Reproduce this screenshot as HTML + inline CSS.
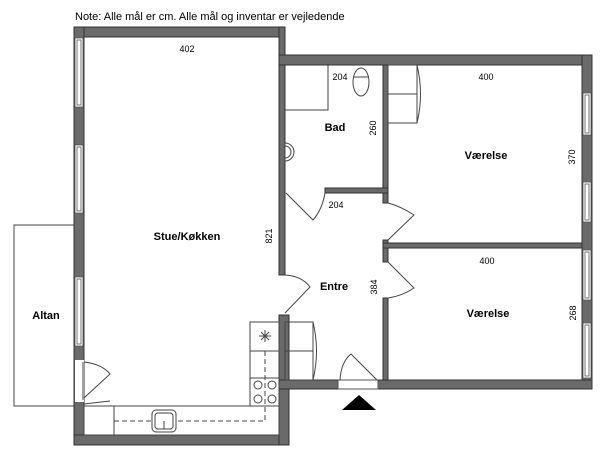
<!DOCTYPE html>
<html><head><meta charset="utf-8"><style>
html,body{margin:0;padding:0;background:#fff}
svg{display:block}
text{font-family:"Liberation Sans",sans-serif;fill:#000}
.w{fill:#6a6a6a;stroke:#333;stroke-width:1}
.win{fill:#fff;stroke:#555;stroke-width:0.8}
.l{fill:none;stroke:#444;stroke-width:1}
.d{fill:none;stroke:#444;stroke-width:1;stroke-dasharray:5,3}
.b{font-weight:bold;font-size:11px}
.s{font-size:9px}
</style></head><body>
<svg width="600" height="452" viewBox="0 0 600 452" xmlns="http://www.w3.org/2000/svg">
<text x="75" y="20" font-size="11">Note: Alle mål er cm. Alle mål og inventar er vejledende</text>
<rect x="14" y="225" width="60" height="181" class="l"/>
<rect x="74" y="27" width="211" height="10" class="w"/>
<rect x="74" y="27" width="10" height="418" class="w"/>
<rect x="74" y="435" width="215" height="10" class="w"/>
<rect x="279" y="27" width="6" height="248" class="w"/>
<rect x="279" y="315" width="10" height="130" class="w"/>
<rect x="279" y="55" width="313" height="10" class="w"/>
<rect x="582" y="55" width="10" height="334" class="w"/>
<rect x="279" y="380" width="59" height="9" class="w"/>
<rect x="378" y="380" width="214" height="9" class="w"/>
<rect x="383" y="65" width="5" height="138" class="w"/>
<rect x="325" y="188" width="63" height="5" class="w"/>
<rect x="383" y="240" width="5" height="22" class="w"/>
<rect x="383" y="243" width="199" height="5" class="w"/>
<rect x="383" y="298" width="5" height="82" class="w"/>
<rect x="75" y="38" width="8" height="69" class="win"/><rect x="77" y="40" width="4" height="65" class="win"/>
<rect x="75" y="145" width="8" height="68" class="win"/><rect x="77" y="147" width="4" height="64" class="win"/>
<rect x="75" y="277" width="8" height="69" class="win"/><rect x="77" y="279" width="4" height="65" class="win"/>
<rect x="75" y="360" width="9" height="42" fill="#fff" stroke="none"/>
<line x1="83" y1="362" x2="83" y2="400" class="l"/>
<path d="M84 362 Q102 364 110 374 L84 398" class="l"/>
<line x1="84" y1="404" x2="110" y2="401" class="l"/>
<rect x="583" y="93" width="8" height="42" class="win"/><rect x="585" y="95" width="4" height="38" class="win"/>
<rect x="583" y="182" width="8" height="40" class="win"/><rect x="585" y="184" width="4" height="36" class="win"/>
<rect x="583" y="250" width="8" height="50" class="win"/><rect x="585" y="252" width="4" height="46" class="win"/>
<rect x="583" y="323" width="8" height="55" class="win"/><rect x="585" y="325" width="4" height="51" class="win"/>
<path d="M285 275 Q302 276 310 287 L285 313" class="l"/>
<path d="M286 193 L313 220 Q322 210 325 193" class="l"/>
<path d="M388 203 Q400 206 414 215 L388 240" class="l"/>
<path d="M388 262 L414 288 Q402 296 388 298" class="l"/>
<rect x="338" y="380" width="40" height="9" fill="#fff" stroke="#555"/>
<path d="M340 380 Q341 362 351 354 L377 380" class="l"/>
<polygon points="342,410 359,395 376,410" fill="#000"/>
<path d="M328 65 L328 110 L285 110" class="l"/>
<ellipse cx="361" cy="82" rx="8" ry="14" class="l"/><line x1="353" y1="77" x2="369" y2="77" class="l"/>
<path d="M285 143 A9 9 0 0 1 285 161 Z" class="l"/><path d="M285 146 A6 6 0 0 1 285 158" class="l"/>
<rect x="388" y="65" width="29" height="29" class="l"/><rect x="388" y="94" width="29" height="29" class="l"/>
<path d="M417 65 Q424 94 417 123" class="l"/>
<rect x="285" y="322" width="28" height="29" class="l"/><rect x="285" y="351" width="28" height="29" class="l"/>
<path d="M313 322 Q320 351 313 380" class="l"/>
<rect x="250" y="322" width="29" height="29" class="l"/>
<rect x="250" y="351" width="29" height="27" class="l"/>
<rect x="250" y="378" width="29" height="28" class="l"/>
<rect x="84" y="406" width="195" height="29" class="l"/>
<line x1="114" y1="406" x2="114" y2="435" class="l"/>
<path d="M259 336 L271 336 M265 330 L265 342 M261 332 L269 340 M269 332 L261 340" class="l"/>
<path d="M265 351 L265 421 L114 421" class="d"/>
<circle cx="258" cy="385" r="4" class="l"/><circle cx="272" cy="385" r="4" class="l"/>
<circle cx="258" cy="399" r="4" class="l"/><circle cx="272" cy="399" r="4" class="l"/>
<rect x="152" y="410" width="24" height="22" rx="4" fill="#fff" stroke="#444"/>
<rect x="155" y="413" width="18" height="16" rx="3" class="l"/>
<line x1="164" y1="421" x2="164" y2="429" class="l"/>
<text x="187" y="52" class="s" text-anchor="middle">402</text>
<text x="340" y="80" class="s" text-anchor="middle">204</text>
<text x="335" y="131" class="b" text-anchor="middle">Bad</text>
<text x="0" y="0" class="s" text-anchor="middle" transform="translate(376,128) rotate(-90)">260</text>
<text x="486" y="80" class="s" text-anchor="middle">400</text>
<text x="486" y="159" class="b" text-anchor="middle">Værelse</text>
<text x="0" y="0" class="s" text-anchor="middle" transform="translate(575,157) rotate(-90)">370</text>
<text x="336" y="208" class="s" text-anchor="middle">204</text>
<text x="187" y="240" class="b" text-anchor="middle">Stue/Køkken</text>
<text x="0" y="0" class="s" text-anchor="middle" transform="translate(272,236) rotate(-90)">821</text>
<text x="334" y="290" class="b" text-anchor="middle">Entre</text>
<text x="0" y="0" class="s" text-anchor="middle" transform="translate(377,287) rotate(-90)">384</text>
<text x="487" y="264" class="s" text-anchor="middle">400</text>
<text x="488" y="317" class="b" text-anchor="middle">Værelse</text>
<text x="0" y="0" class="s" text-anchor="middle" transform="translate(576,313) rotate(-90)">268</text>
<text x="46" y="319" class="b" text-anchor="middle">Altan</text>
</svg>
</body></html>
